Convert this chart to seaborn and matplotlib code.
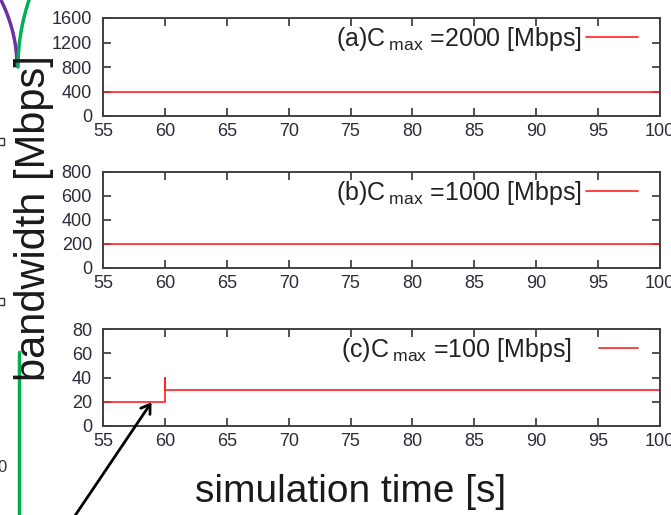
import numpy as np
import pandas as pd
import seaborn as sns
import matplotlib.pyplot as plt
from matplotlib.patches import FancyArrowPatch, Rectangle
from matplotlib.lines import Line2D

# simulation time [s] and bandwidth [Mbps] for the three capacity cases
time_a = [55, 100]
bw_a = [400, 400]
time_b = [55, 100]
bw_b = [200, 200]
time_c = [55, 60, 60, 60, 100]
bw_c = [20, 20, 40, 30, 30]

labels = [r'(a)C$\,_{\rm max}$ =2000 [Mbps]',
          r'(b)C$\,_{\rm max}$ =1000 [Mbps]',
          r'(c)C$\,_{\rm max}$ =100 [Mbps]']
y_max = [1600, 800, 80]
y_ticks = [[0, 400, 800, 1200, 1600],
           [0, 200, 400, 600, 800],
           [0, 20, 40, 60, 80]]
x_ticks = list(range(55, 101, 5))

sns.set_style('ticks')
plt.rcParams['font.family'] = ['Liberation Sans', 'DejaVu Sans']
plt.rcParams['mathtext.fontset'] = 'custom'
plt.rcParams['mathtext.rm'] = 'Liberation Sans'

fig = plt.figure(figsize=(6.71, 5.15), dpi=100)
W, H = 671, 515
boxes = [(18, 116), (172, 268), (329, 426)]
left, right = 103, 660
leg_len = [2.1, 2.1, 1.55]
leg_pad = [0.16, 0.16, 1.1]

series = [(time_a, bw_a), (time_b, bw_b), (time_c, bw_c)]
for i, (top, bot) in enumerate(boxes):
    ax = fig.add_axes([left / W, 1 - bot / H, (right - left) / W, (bot - top) / H])
    df = pd.DataFrame({'t': series[i][0], 'bw': series[i][1]})
    sns.lineplot(data=df, x='t', y='bw', ax=ax, color='#ff2020',
                 linewidth=1.2, sort=False, estimator=None, label=labels[i])
    ax.set_xlim(55, 100)
    ax.set_ylim(0, y_max[i])
    ax.set_xticks(x_ticks)
    ax.set_yticks(y_ticks[i])
    ax.set(xlabel='', ylabel='')
    ax.tick_params(direction='in', top=True, right=True, length=6,
                   width=1.2, labelsize=13, colors='#333333',
                   labelcolor='#2b2b3b')
    ax.tick_params(axis='x', pad=5)
    ax.tick_params(axis='y', pad=8)
    for s in ax.spines.values():
        s.set_color('#404040')
        s.set_linewidth(1.4)
    leg = ax.legend(loc='upper right', frameon=False, markerfirst=False,
                    fontsize=18, handlelength=leg_len[i],
                    handletextpad=leg_pad[i], borderaxespad=0, borderpad=0,
                    bbox_to_anchor=((638 - left) / (right - left),
                                    1 - 7 / (bot - top)))
    for t in leg.get_texts():
        t.set_color('#222222')

fig.text(34 / W, 1 - 218 / H, 'bandwidth [Mbps]', rotation=90,
         ha='center', va='center', fontsize=30, color='#1a1a1a')
fig.text(351 / W, 1 - 492 / H, 'simulation time [s]',
         ha='center', va='center', fontsize=28, color='#1a1a1a')

# arrow pointing at the step in panel (c)
arrow = FancyArrowPatch((72 / W, -0.01), (153 / W, 1 - 400 / H),
                        transform=fig.transFigure,
                        arrowstyle='->,head_length=6,head_width=4',
                        color='black', linewidth=2, mutation_scale=1)
fig.add_artist(arrow)

# decoration fragments from the surrounding slide
t = np.linspace(0, 1, 30)
fig.add_artist(Line2D((1 + 16 * (1 - (1 - t) ** 2)) / W, 1 - (66 * t) / H,
                      transform=fig.transFigure, color='#7030a0', linewidth=2.5))
fig.add_artist(Line2D((29 - 11 * (1 - (1 - t) ** 2)) / W, 1 - (67 * t) / H,
                      transform=fig.transFigure, color='#00b050', linewidth=2.5))
fig.add_artist(Line2D([19 / W, 19 / W], [1 - 352 / H, 0],
                      transform=fig.transFigure, color='#00b050', linewidth=2.5))
for yb in (140, 300):
    fig.add_artist(Rectangle((-3 / W, 1 - (yb + 5) / H), 7 / W, 7 / H,
                             transform=fig.transFigure, fill=False,
                             edgecolor='#333333', linewidth=1))
fig.text(-3 / W, 1 - 468 / H, '0', ha='left', va='center', fontsize=12,
         color='#333333')

fig.savefig('out.png', dpi=100)
